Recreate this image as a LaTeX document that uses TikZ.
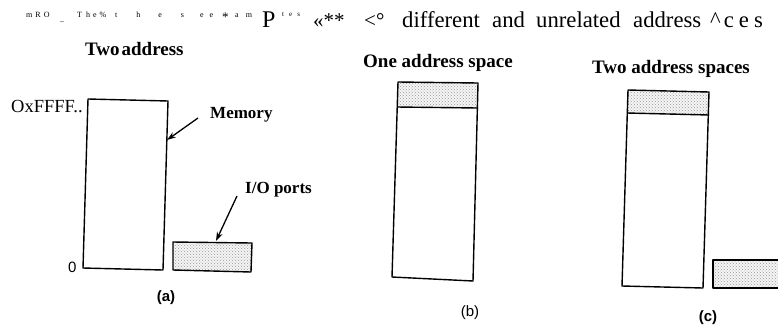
\documentclass[tikz,border=0pt]{standalone}
\usepackage{fontspec}
\setmainfont{Liberation Serif}
\newfontfamily\sansf{Liberation Sans}
\usetikzlibrary{arrows.meta,patterns}
\begin{document}
\begin{tikzpicture}[x=1pt,y=-1pt,
 box/.style={line width=1.4pt, line join=round},
 dotfill/.style={pattern=crosshatch dots, pattern color=black!40},
 title/.style={font=\fontsize{19}{19}\selectfont\bfseries, anchor=base west, inner sep=0pt},
 lab/.style={font=\fontsize{17}{17}\selectfont\bfseries, anchor=base west, inner sep=0pt},
 capt/.style={font=\sansf\bfseries\fontsize{15}{15}\selectfont, inner sep=0pt},
 hdr/.style={font=\fontsize{22.7}{22.7}\selectfont, anchor=base west, inner sep=0pt},
 mid/.style={font=\fontsize{21}{21}\selectfont, anchor=base west, inner sep=0pt},
 small/.style={font=\fontsize{8}{8}\selectfont, anchor=base west, inner sep=0pt},
 arr/.style={line width=1.3pt, -{Stealth[length=9pt,width=6pt]}}]
\useasboundingbox (0,0) rectangle (778,325);

% ---------- header line ----------
\node[small] (h1) at (26,17) {m\hspace{3pt}R\hspace{3pt}O};
\node[small] (h2) at (60,21) {\_};
\node[small] (h3) at (77,17) {T\hspace{4pt}h\hspace{3pt}e\hspace{3pt}\%};
\node[small] (h4) at (115,17) {t\hspace{19pt}h\hspace{18pt}e\hspace{19pt}s\hspace{16pt}e\hspace{6pt}e};
\node[small,font=\fontsize{13}{13}\selectfont] (h5) at (222,21) {*};
\node[small] (h6) at (235,17) {a\hspace{7pt}m};
\node[hdr,font=\fontsize{24}{24}\selectfont] (h7) at (262,27) {P};
\node[small,font=\fontsize{7}{7}\selectfont] (h8) at (282,16) {t\hspace{5pt}e\hspace{5pt}s};
\node[mid] (h9) at (313,27) {«**};
\node[mid] (h10) at (364,27) {<°};
\node[hdr] (h11) at (402,27) {different};
\node[hdr] (h12) at (492,27) {and};
\node[hdr] (h13) at (536,27) {unrelated};
\node[hdr] (h14) at (633,27) {address};
\node[hdr] (h15) at (710,27) {\textasciicircum\hspace{3pt}c\hspace{5pt}e\hspace{5pt}s};

% ---------- (a) ----------
\node[title] (ta) at (85,55) {Two\hspace{2pt}address};
\draw[box] (88,99) -- (168,101) -- (163,270) -- (83,268) -- cycle;
\node[mid,font=\fontsize{18.5}{18.5}\selectfont] (ffff) at (11,112) {OxFFFF..};
\node[mid,font=\sansf\fontsize{15}{15}\selectfont] (zero) at (68,272) {0};
\path[fill=black!4] (173,242) -- (252,243) -- (251,272) -- (173,270) -- cycle;
\path[dotfill] (173,242) -- (252,243) -- (251,272) -- (173,270) -- cycle;
\draw[box] (173,242) -- (252,243) -- (251,272) -- (173,270) -- cycle;
\node[lab] (mem) at (210,118) {Memory};
\node[lab] (io) at (245,193) {I/O ports};
\coordinate (memtail) at (198,118);
\coordinate (memhead) at (167,140);
\coordinate (iotail) at (237,196);
\coordinate (iohead) at (216,241);
\draw[arr] (memtail) -- (memhead);
\draw[arr] (iotail) -- (iohead);
\node[capt] (ca) at (166,298) {(a)};

% ---------- (b) ----------
\node[title] (tb) at (363,67) {One address space};
\path[fill=black!4] (398,82) -- (478,83) -- (478,108) -- (397,107) -- cycle;
\path[dotfill] (398,82) -- (478,83) -- (478,108) -- (397,107) -- cycle;
\draw[box] (398,82) -- (478,83) -- (473,281) -- (392,277) -- cycle;
\draw[box] (397,107) -- (478,108);
\node[capt,font=\sansf\fontsize{15}{15}\selectfont] (cb) at (470,313) {(b)};

% ---------- (c) ----------
\node[title] (tc) at (592,73) {Two address spaces};
\path[fill=black!4] (628,90) -- (709,92) -- (709,115) -- (627,113) -- cycle;
\path[dotfill] (628,90) -- (709,92) -- (709,115) -- (627,113) -- cycle;
\draw[box] (628,90) -- (709,92) -- (703,288) -- (622,286) -- cycle;
\draw[box] (627,113) -- (709,115);
\path[fill=black!4] (713,260) -- (790,260) -- (790,288) -- (713,288) -- cycle;
\path[dotfill] (713,260) -- (790,260) -- (790,288) -- (713,288) -- cycle;
\draw[box] (790,260) -- (713,260) -- (713,288) -- (790,288);
\node[capt] (cc) at (708,318) {(c)};
\end{tikzpicture}
\end{document}
